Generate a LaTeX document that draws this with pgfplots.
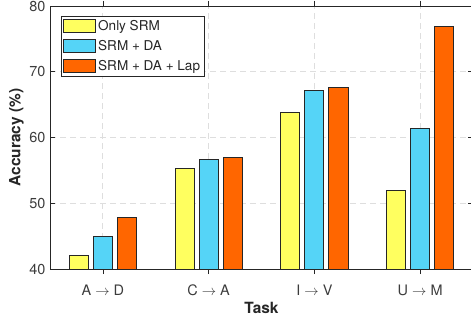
\documentclass[border=0pt]{standalone}
\usepackage{pgfplots}
\pgfplotsset{compat=1.18}
\usepackage{fontspec}
\setmainfont{TeX Gyre Heros}
\definecolor{cyel}{RGB}{255,255,95}
\definecolor{ccya}{RGB}{85,212,247}
\definecolor{cora}{RGB}{255,102,0}
\definecolor{axc}{RGB}{38,38,38}
\definecolor{tkc}{RGB}{60,60,60}
\definecolor{gridc}{RGB}{222,222,222}
\begin{document}
\begin{tikzpicture}
\begin{axis}[
  at={(0,0)}, anchor=south west,
  scale only axis, width=423bp, height=263bp,
  xmin=0.5, xmax=4.5, ymin=40, ymax=80,
  xtick={1,2,3,4},
  xticklabels={A $\rightarrow$ D, C $\rightarrow$ A, I $\rightarrow$ V, U $\rightarrow$ M},
  ytick={40,50,60,70,80},
  tick align=inside,
  major tick length=5bp,
  xtick pos=both, ytick pos=both,
  tick style={axc, line width=0.6bp},
  axis line style={axc, line width=0.9bp},
  grid=major,
  major grid style={gridc, dash pattern=on 6bp off 4bp, line width=0.8bp},
  /pgf/number format/assume math mode=true,
  ticklabel style={font=\fontsize{14.5}{16}\selectfont, text=tkc},
  xticklabel style={anchor=base, yshift=-21bp},
  yticklabel style={xshift=-1bp},
  xlabel={Task},
  ylabel={Accuracy (\%)},
  every axis x label/.style={at={(axis description cs:0.5,-0.1464)}, anchor=center, font=\fontsize{15.5}{18}\selectfont\bfseries, text=axc},
  every axis y label/.style={at={(axis description cs:-0.0792,0.5)}, anchor=center, rotate=90, font=\fontsize{15.5}{18}\selectfont\bfseries, text=axc},
  ybar, bar width=0.18,
  legend style={at={(axis description cs:0.026,0.963)}, anchor=north west,
    draw=axc, line width=0.8bp, font=\fontsize{13.6}{15}\selectfont, text=axc,
    inner sep=2bp, row sep=4.5bp, cells={anchor=west}},
  legend image code/.code={\draw[#1, line width=0.8bp] (0bp,-6.3bp) rectangle (32bp,6.3bp);},
  legend cell align=left,
]
\addplot[fill=cyel, draw=axc, line width=0.8bp, bar shift=-0.227] coordinates {(1,42.0) (2,55.3) (3,63.8) (4,52.0)};
\addplot[fill=ccya, draw=axc, line width=0.8bp, bar shift=0] coordinates {(1,45.0) (2,56.6) (3,67.2) (4,61.4)};
\addplot[fill=cora, draw=axc, line width=0.8bp, bar shift=0.227] coordinates {(1,47.8) (2,57.0) (3,67.6) (4,76.9)};
\legend{Only SRM, SRM + DA, SRM + DA + Lap}
\end{axis}
\pgfresetboundingbox
\path[use as bounding box] (-50bp,-51bp) rectangle (421bp,269bp);
\end{tikzpicture}
\end{document}
